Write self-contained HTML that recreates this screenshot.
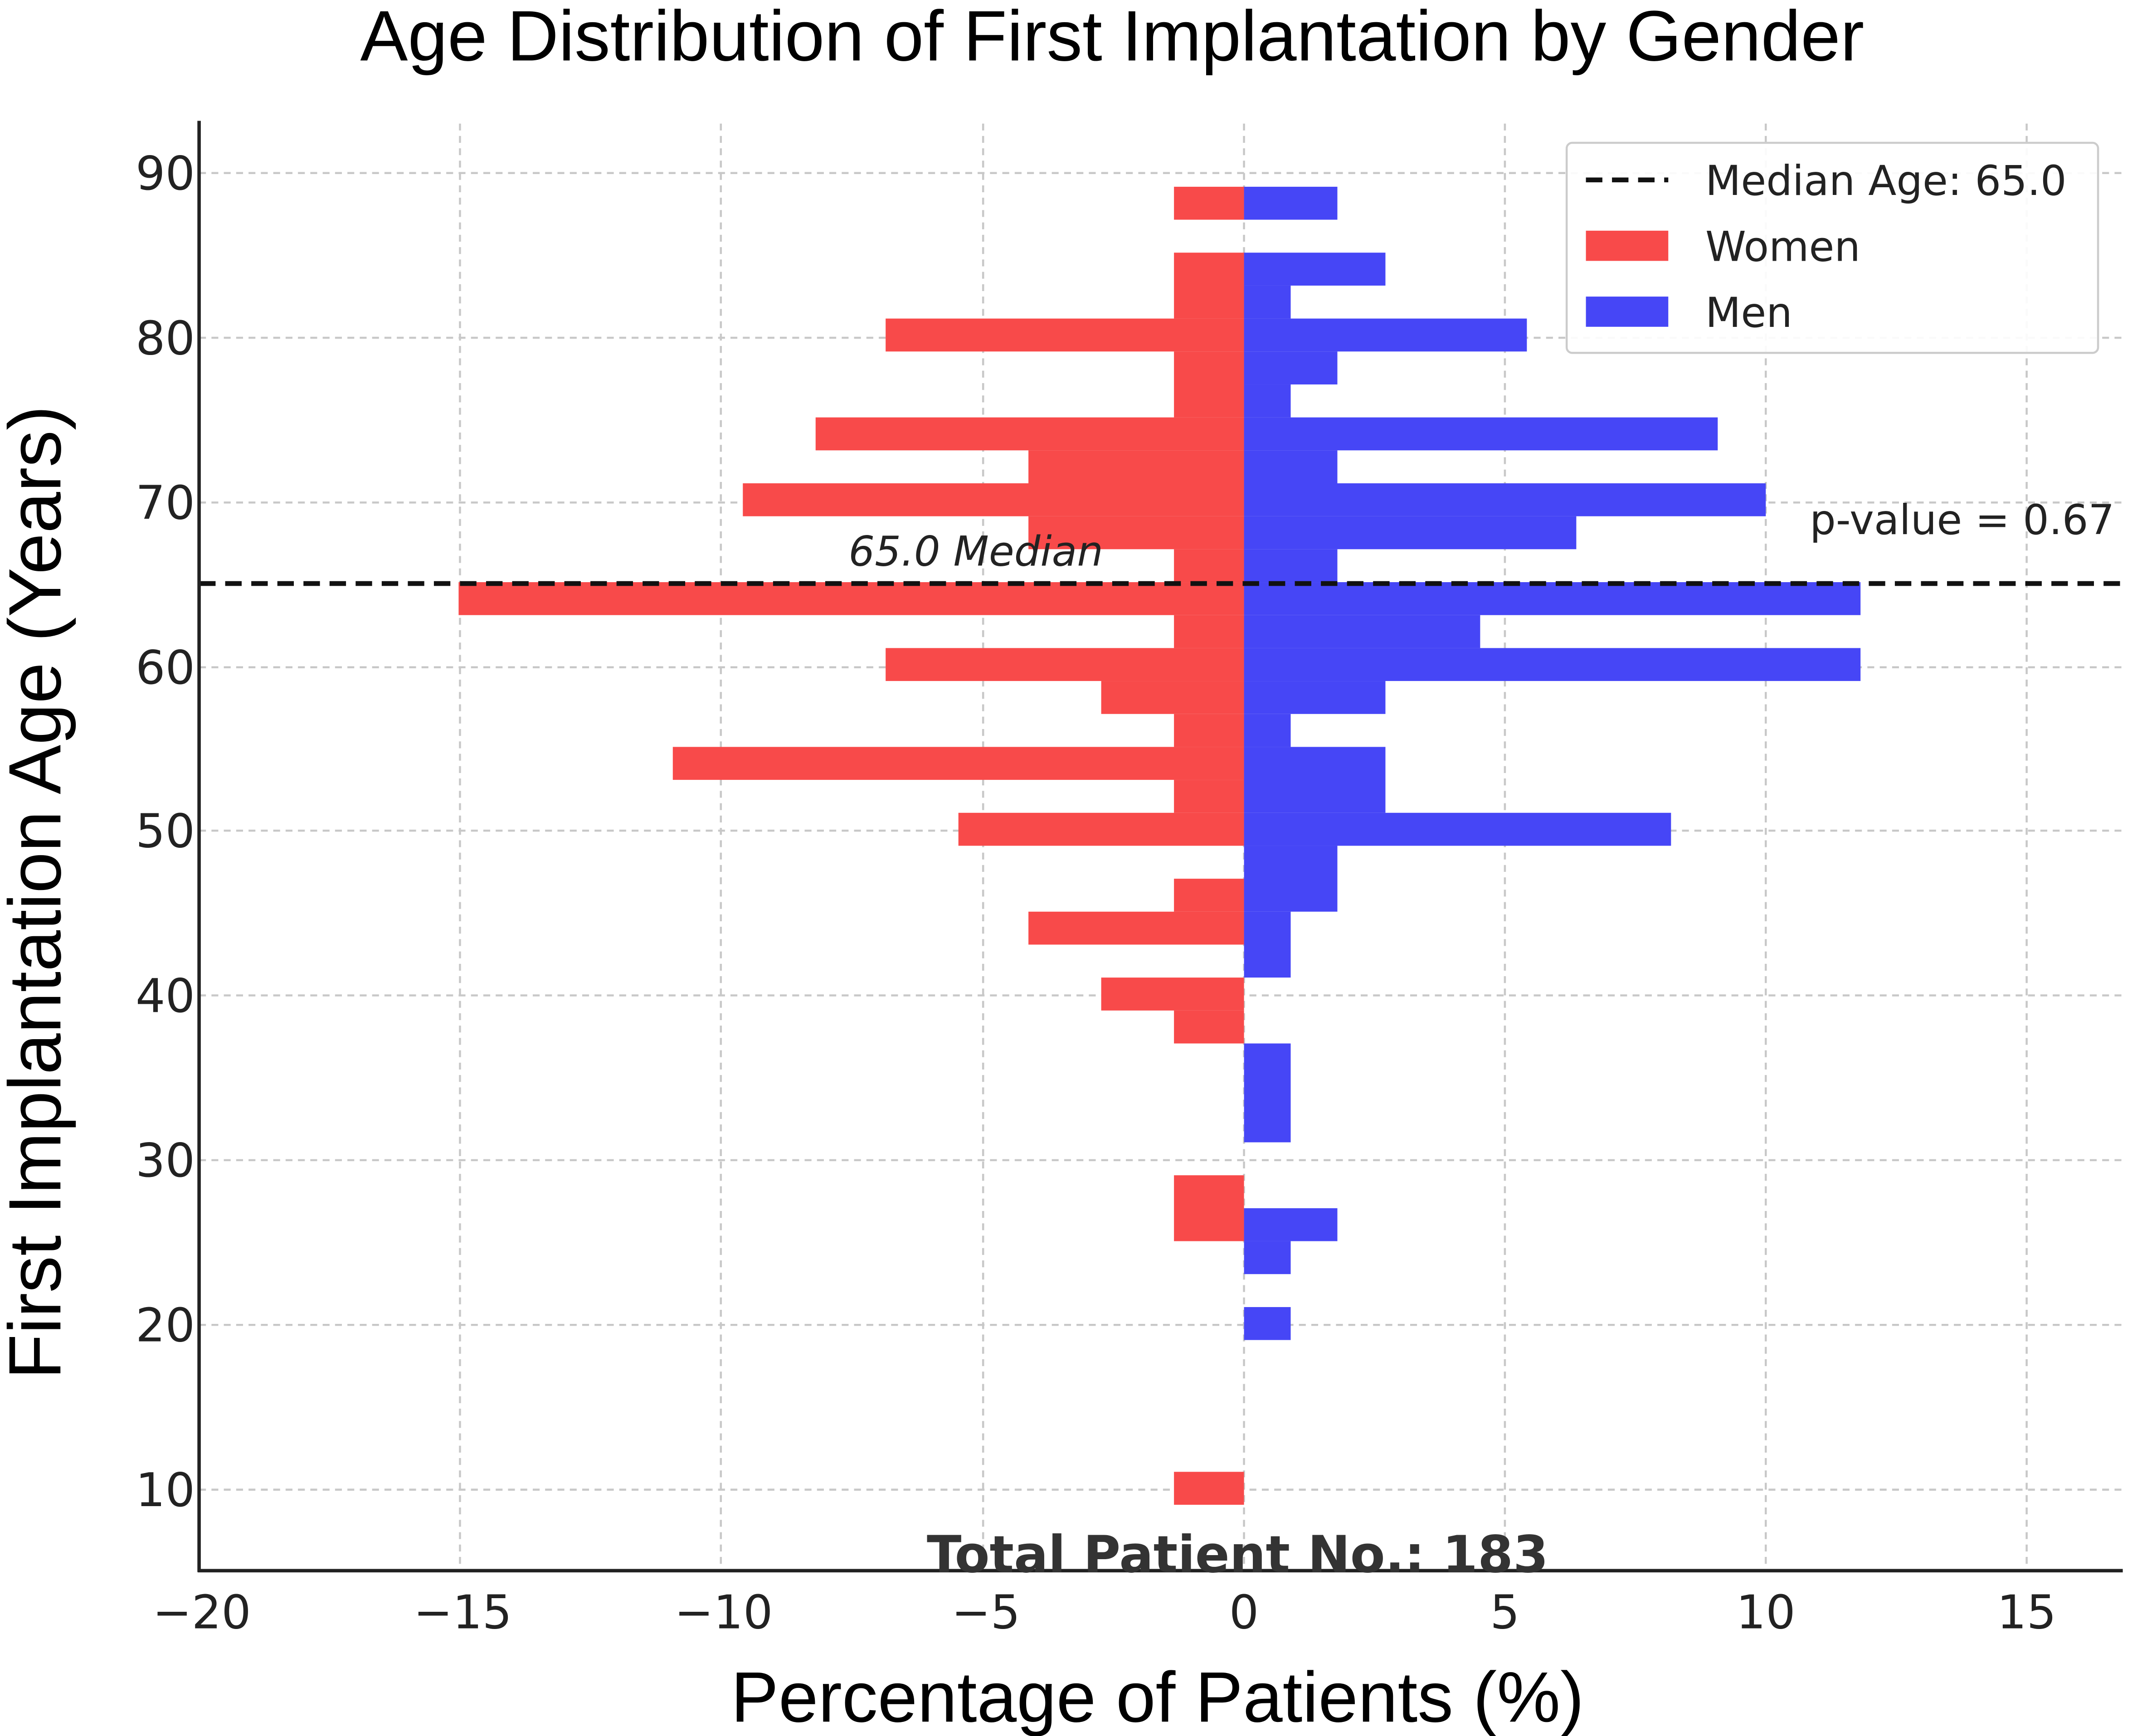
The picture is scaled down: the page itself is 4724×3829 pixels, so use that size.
<!DOCTYPE html>
<html><head><meta charset="utf-8"><style>html,body{margin:0;padding:0;background:#fff}svg{display:block}</style></head>
<body>
<svg width="4724" height="3829" viewBox="0 0 1560 1264.4" xmlns="http://www.w3.org/2000/svg" font-family="Liberation Sans, DejaVu Sans, sans-serif">
<rect width="1560" height="1265" fill="#fff"/>
<g stroke="#c8c8c8" stroke-width="1.5" stroke-dasharray="5,4">
<line x1="145" x2="1545" y1="126" y2="126"/><line x1="145" x2="1545" y1="246" y2="246"/><line x1="145" x2="1545" y1="366" y2="366"/><line x1="145" x2="1545" y1="486" y2="486"/><line x1="145" x2="1545" y1="605" y2="605"/><line x1="145" x2="1545" y1="725" y2="725"/><line x1="145" x2="1545" y1="845" y2="845"/><line x1="145" x2="1545" y1="965" y2="965"/><line x1="145" x2="1545" y1="1085" y2="1085"/>
<line y1="90" y2="1144" x1="335" x2="335"/><line y1="90" y2="1144" x1="525" x2="525"/><line y1="90" y2="1144" x1="716" x2="716"/><line y1="90" y2="1144" x1="906" x2="906"/><line y1="90" y2="1144" x1="1096" x2="1096"/><line y1="90" y2="1144" x1="1286" x2="1286"/><line y1="90" y2="1144" x1="1476" x2="1476"/>
</g>
<g fill="#f84a4a">
<rect x="855" y="136" width="51" height="24"/>
<rect x="855" y="184" width="51" height="48"/>
<rect x="645" y="232" width="261" height="24"/>
<rect x="855" y="256" width="51" height="48"/>
<rect x="594" y="304" width="312" height="24"/>
<rect x="749" y="328" width="157" height="24"/>
<rect x="541" y="352" width="365" height="24"/>
<rect x="749" y="376" width="157" height="24"/>
<rect x="855" y="400" width="51" height="24"/>
<rect x="334" y="424" width="572" height="24"/>
<rect x="855" y="448" width="51" height="24"/>
<rect x="645" y="472" width="261" height="24"/>
<rect x="802" y="496" width="104" height="24"/>
<rect x="855" y="520" width="51" height="24"/>
<rect x="490" y="544" width="416" height="24"/>
<rect x="855" y="568" width="51" height="24"/>
<rect x="698" y="592" width="208" height="24"/>
<rect x="855" y="640" width="51" height="24"/>
<rect x="749" y="664" width="157" height="24"/>
<rect x="802" y="712" width="104" height="24"/>
<rect x="855" y="736" width="51" height="24"/>
<rect x="855" y="856" width="51" height="48"/>
<rect x="855" y="1072" width="51" height="24"/>
</g>
<g fill="#4646f6">
<rect x="906" y="136" width="68" height="24"/>
<rect x="906" y="184" width="103" height="24"/>
<rect x="906" y="208" width="34" height="24"/>
<rect x="906" y="232" width="206" height="24"/>
<rect x="906" y="256" width="68" height="24"/>
<rect x="906" y="280" width="34" height="24"/>
<rect x="906" y="304" width="345" height="24"/>
<rect x="906" y="328" width="68" height="24"/>
<rect x="906" y="352" width="380" height="24"/>
<rect x="906" y="376" width="242" height="24"/>
<rect x="906" y="400" width="68" height="24"/>
<rect x="906" y="424" width="449" height="24"/>
<rect x="906" y="448" width="172" height="24"/>
<rect x="906" y="472" width="449" height="24"/>
<rect x="906" y="496" width="103" height="24"/>
<rect x="906" y="520" width="34" height="24"/>
<rect x="906" y="544" width="103" height="48"/>
<rect x="906" y="592" width="311" height="24"/>
<rect x="906" y="616" width="68" height="48"/>
<rect x="906" y="664" width="34" height="48"/>
<rect x="906" y="760" width="34" height="72"/>
<rect x="906" y="880" width="68" height="24"/>
<rect x="906" y="904" width="34" height="24"/>
<rect x="906" y="952" width="34" height="24"/>
</g>
<line x1="145" x2="1545" y1="425" y2="425" stroke="#111" stroke-width="3.5" stroke-dasharray="12,7"/>
<line x1="145" x2="145" y1="88" y2="1145" stroke="#222" stroke-width="2.5"/>
<line x1="144" x2="1546" y1="1144" y2="1144" stroke="#222" stroke-width="2.5"/>
<g font-family="DejaVu Sans, sans-serif" font-size="34" fill="#222" text-anchor="end">
<text x="142" y="138">90</text><text x="142" y="258">80</text><text x="142" y="378">70</text><text x="142" y="498">60</text><text x="142" y="617">50</text><text x="142" y="737">40</text><text x="142" y="857">30</text><text x="142" y="977">20</text><text x="142" y="1097">10</text>
</g>
<g font-family="DejaVu Sans, sans-serif" font-size="34" fill="#222" text-anchor="middle">
<text x="147" y="1186">−20</text><text x="337" y="1186">−15</text><text x="527" y="1186">−10</text><text x="718" y="1186">−5</text><text x="906" y="1186">0</text><text x="1096" y="1186">5</text><text x="1286" y="1186">10</text><text x="1476" y="1186">15</text>
</g>
<rect x="1141" y="104" width="387" height="153" rx="4" fill="#fff" fill-opacity="0.9" stroke="#ccc" stroke-width="1.5"/>
<line x1="1155" x2="1215" y1="131" y2="131" stroke="#111" stroke-width="3.5" stroke-dasharray="12,7"/>
<rect x="1155" y="168" width="60" height="22" fill="#f84a4a"/>
<rect x="1155" y="216" width="60" height="22" fill="#4646f6"/>
<g font-family="DejaVu Sans, sans-serif" font-size="30" fill="#222">
<text x="1242" y="142">Median Age: 65.0</text>
<text x="1242" y="190">Women</text>
<text x="1242" y="238">Men</text>
<text x="618" y="412" font-style="italic">65.0 Median</text>
<text x="1318" y="389" font-size="30">p-value = 0.67</text>
<text x="675" y="1145" font-weight="bold" font-size="37" fill="#333">Total Patient No.: 183</text>
</g>
<text x="810" y="44" font-size="52" text-anchor="middle" fill="#000">Age Distribution of First Implantation by Gender</text>
<text x="843" y="1254" font-size="52" text-anchor="middle" fill="#000">Percentage of Patients (%)</text>
<text transform="translate(44,650) rotate(-90)" font-size="54" text-anchor="middle" fill="#000">First Implantation Age (Years)</text>
</svg>
</body></html>
